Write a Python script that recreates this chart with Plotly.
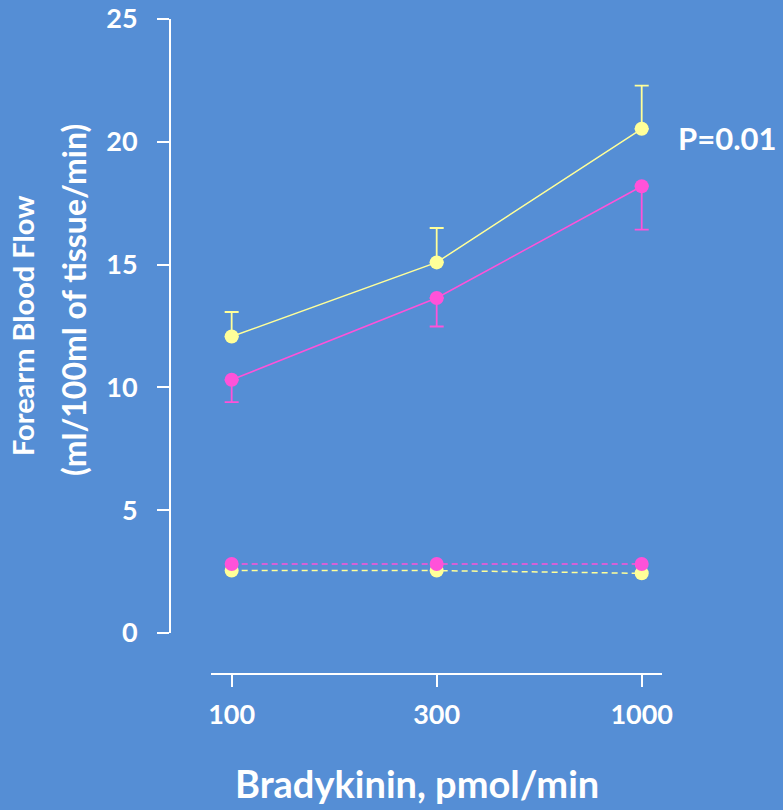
import plotly.graph_objects as go

# ---- data ----
doses = ["100", "300", "1000"]
yellow_solid = [12.07, 15.09, 20.53]
yellow_solid_err_up = [1.0, 1.4, 1.76]
magenta_solid = [10.31, 13.64, 18.19]
magenta_solid_err_down = [0.91, 1.16, 1.77]
yellow_dashed = [2.54, 2.54, 2.43]
magenta_dashed = [2.81, 2.81, 2.81]
y_ticks = [0, 5, 10, 15, 20, 25]

YELLOW = "#FFFF99"
MAGENTA = "#FF52D9"
BG = "#558ED5"
FONT = "Lato, sans-serif"

fig = go.Figure()

fig.add_trace(go.Scatter(
    x=doses, y=yellow_dashed, mode="lines+markers",
    line=dict(color=YELLOW, width=1.5, dash="6px,4px"),
    marker=dict(color=YELLOW, size=14), cliponaxis=False, showlegend=False))
fig.add_trace(go.Scatter(
    x=doses, y=magenta_dashed, mode="lines+markers",
    line=dict(color=MAGENTA, width=1.5, dash="6px,4px"),
    marker=dict(color=MAGENTA, size=14), cliponaxis=False, showlegend=False))
fig.add_trace(go.Scatter(
    x=doses, y=yellow_solid, mode="lines+markers",
    line=dict(color=YELLOW, width=1.5),
    marker=dict(color=YELLOW, size=14),
    error_y=dict(type="data", symmetric=False, array=yellow_solid_err_up,
                 arrayminus=[0] * len(doses), color=YELLOW, thickness=1.8, width=7),
    cliponaxis=False, showlegend=False))
fig.add_trace(go.Scatter(
    x=doses, y=magenta_solid, mode="lines+markers",
    line=dict(color=MAGENTA, width=1.5),
    marker=dict(color=MAGENTA, size=14),
    error_y=dict(type="data", symmetric=False, array=[0] * len(doses),
                 arrayminus=magenta_solid_err_down, color=MAGENTA, thickness=1.8, width=7),
    cliponaxis=False, showlegend=False))

fig.update_layout(
    width=783, height=810,
    margin=dict(l=170, r=121, t=19, b=136, autoexpand=False),
    paper_bgcolor=BG, plot_bgcolor=BG,
    font=dict(family=FONT, color="white"),
    xaxis=dict(
        type="category", categoryorder="array", categoryarray=doses,
        range=[-0.0985, 2.099], domain=[0.0843, 1],
        anchor="free", position=0, automargin=False,
        showline=True, linecolor="white", linewidth=2,
        ticks="outside", ticklen=12, tickwidth=1.5, tickcolor="white",
        tickfont=dict(size=27, family=FONT, color="white", weight="bold"),
        ticklabelstandoff=5,
        showgrid=False, zeroline=False,
    ),
    yaxis=dict(
        range=[0, 25], domain=[0.0626, 1],
        anchor="free", position=0, automargin=False,
        tickvals=y_ticks,
        showline=True, linecolor="white", linewidth=2,
        ticks="outside", ticklen=12, tickwidth=1.5, tickcolor="white",
        tickfont=dict(size=27, family=FONT, color="white", weight="bold"),
        ticklabelstandoff=14,
        showgrid=False, zeroline=False,
    ),
    annotations=[
        dict(text="P=0.01", x=1.0285, y=0.819, xref="paper", yref="paper",
             xanchor="left", yanchor="middle", showarrow=False,
             font=dict(size=31, family=FONT, color="white", weight="bold")),
        dict(text="Bradykinin, pmol/min", x=0.503, y=-0.2045, xref="paper", yref="paper",
             xanchor="center", yanchor="bottom", showarrow=False,
             font=dict(size=38, family=FONT, color="white", weight="bold")),
        dict(text="Forearm Blood Flow", x=-0.2987, y=0.5313, xref="paper", yref="paper",
             xanchor="center", yanchor="middle", textangle=-90, showarrow=False,
             font=dict(size=29, family=FONT, color="white", weight="bold")),
        dict(text="(ml/100ml of tissue/min)", x=-0.1951, y=0.571, xref="paper", yref="paper",
             xanchor="center", yanchor="middle", textangle=-90, showarrow=False,
             font=dict(size=32, family=FONT, color="white", weight="bold")),
    ],
)

fig.write_html("out.html")
